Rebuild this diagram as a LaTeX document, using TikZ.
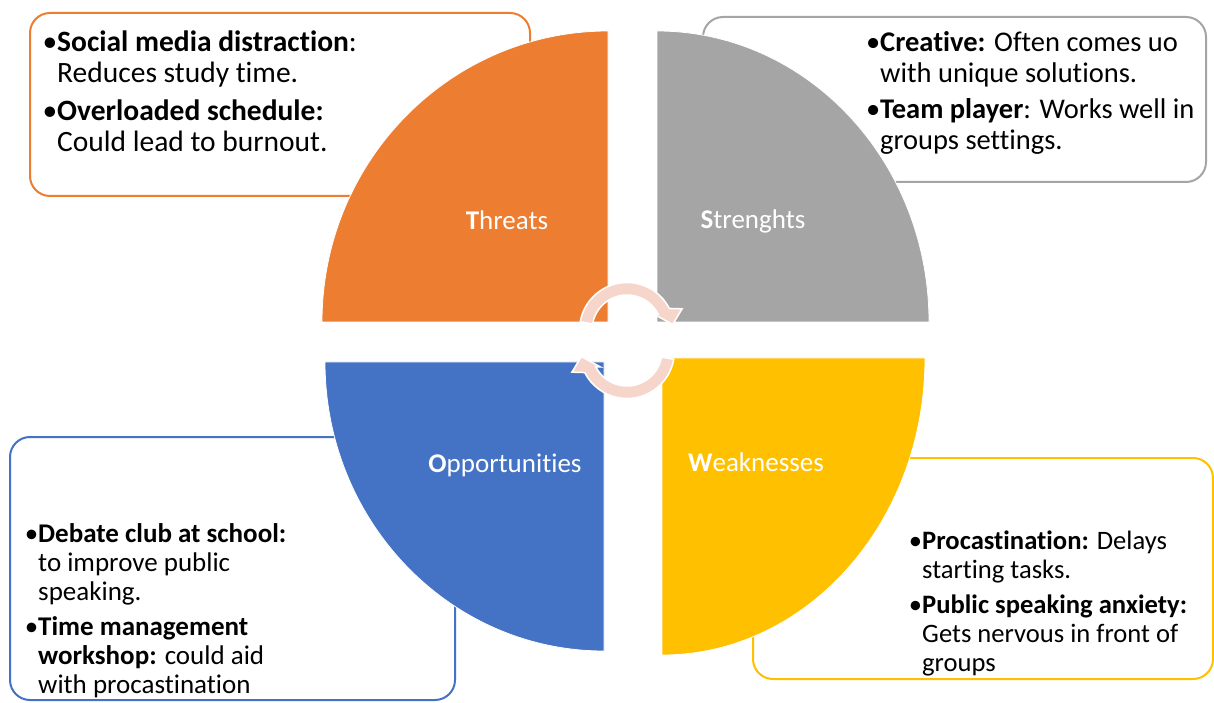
\documentclass[tikz,border=0pt]{standalone}
\usepackage{fontspec}
\setmainfont{Carlito}[Ligatures=NoCommon]
\definecolor{cOrange}{HTML}{ED7D31}
\definecolor{cGray}{HTML}{A5A5A5}
\definecolor{cBlue}{HTML}{4472C4}
\definecolor{cYellow}{HTML}{FFC000}
\definecolor{cPink}{HTML}{F6D5CB}
\begin{document}
\begin{tikzpicture}[x=1pt,y=1pt,
  boxstyle/.style={draw=#1, line width=2pt, rounded corners=20pt, fill=white, inner sep=0pt},
  quarter/.style={fill=#1, draw=white, line width=0.8pt},
  cyclearrow/.style={fill=cPink, draw=white, line width=1.5pt, line join=miter},
  label/.style={text=white, font=\fontsize{27}{30}\selectfont, inner sep=0pt},
  bullettext/.style={anchor=base west, align=left, inner sep=0pt, text=black}]
\useasboundingbox (0,0) rectangle (1214,702);
\fill[white] (0,0) rectangle (1214,702);
% boxes
\node[boxstyle=cOrange, minimum width=500pt, minimum height=183pt] (tbox) at (280,597.5) {};
\node[boxstyle=cGray, minimum width=503pt, minimum height=165pt] (sbox) at (954.5,602.5) {};
\node[boxstyle=cBlue, minimum width=445pt, minimum height=263pt] (obox) at (232.5,133.5) {};
\node[boxstyle=cYellow, minimum width=460pt, minimum height=221pt] (wbox) at (983,133.5) {};
% quarters
\path[quarter=cOrange] (608,380) -- (322,380) arc[start angle=180, end angle=90, x radius=286, y radius=291] -- cycle;
\path[quarter=cGray] (657,380) -- (657,671) arc[start angle=90, end angle=0, x radius=272, y radius=291] -- cycle;
\path[quarter=cBlue] (604,340) -- (325,340) arc[start angle=180, end angle=270, x radius=279, y radius=289] -- cycle;
\path[quarter=cYellow] (662,344) -- (925,344) arc[start angle=0, end angle=-90, x radius=263, y radius=297] -- cycle;
% cycle arrows
\begin{scope}[shift={(627,372)}]
\path[cyclearrow] (170:47.5) arc[start angle=170, end angle=27, radius=47.5] -- (21:59) -- (7:46) -- (31:31) -- (27:35) arc[start angle=27, end angle=170, radius=35] -- cycle;
\end{scope}
\begin{scope}[shift={(627,351)}, rotate=180]
\path[cyclearrow] (170:47.5) arc[start angle=170, end angle=27, radius=47.5] -- (21:59) -- (7:46) -- (31:31) -- (27:35) arc[start angle=27, end angle=170, radius=35] -- cycle;
\end{scope}
% labels
\node[label] (tlab) at (507,482) {\textbf{T}hreats};
\node[label] (slab) at (753,481) {\textbf{S}trenghts};
\node[label] (olab) at (505,237) {\textbf{O}pportunities};
\node[label] (wlab) at (756,240) {\textbf{W}eaknesses};
% box texts (anchored at the baseline of the last line)
\node[bullettext, font=\fontsize{29.5}{31}\selectfont] (ttext) at (57,550) {\llap{•}\textbf{Social media distraction}:\\Reduces study time.\\[7pt]\llap{•}\textbf{Overloaded schedule:}\\Could lead to burnout.};
\node[bullettext, font=\fontsize{28.5}{31}\selectfont] (stext) at (880,552) {\llap{•}\textbf{Creative:} Often comes uo\\with unique solutions.\\[5pt]\llap{•}\textbf{Team player}: Works well in\\groups settings.};
\node[bullettext, font=\fontsize{27}{29}\selectfont] (otext) at (38,9) {\llap{•}\textbf{Debate club at school:}\\to improve public\\speaking.\\[6pt]\llap{•}\textbf{Time management}\\\textbf{workshop:} could aid\\with procastination};
\node[bullettext, font=\fontsize{26.6}{29}\selectfont] (wtext) at (922,31) {\llap{•}\textbf{Procastination:} Delays\\starting tasks.\\[6pt]\llap{•}\textbf{Public speaking anxiety:}\\Gets nervous in front of\\groups};
\end{tikzpicture}
\end{document}
